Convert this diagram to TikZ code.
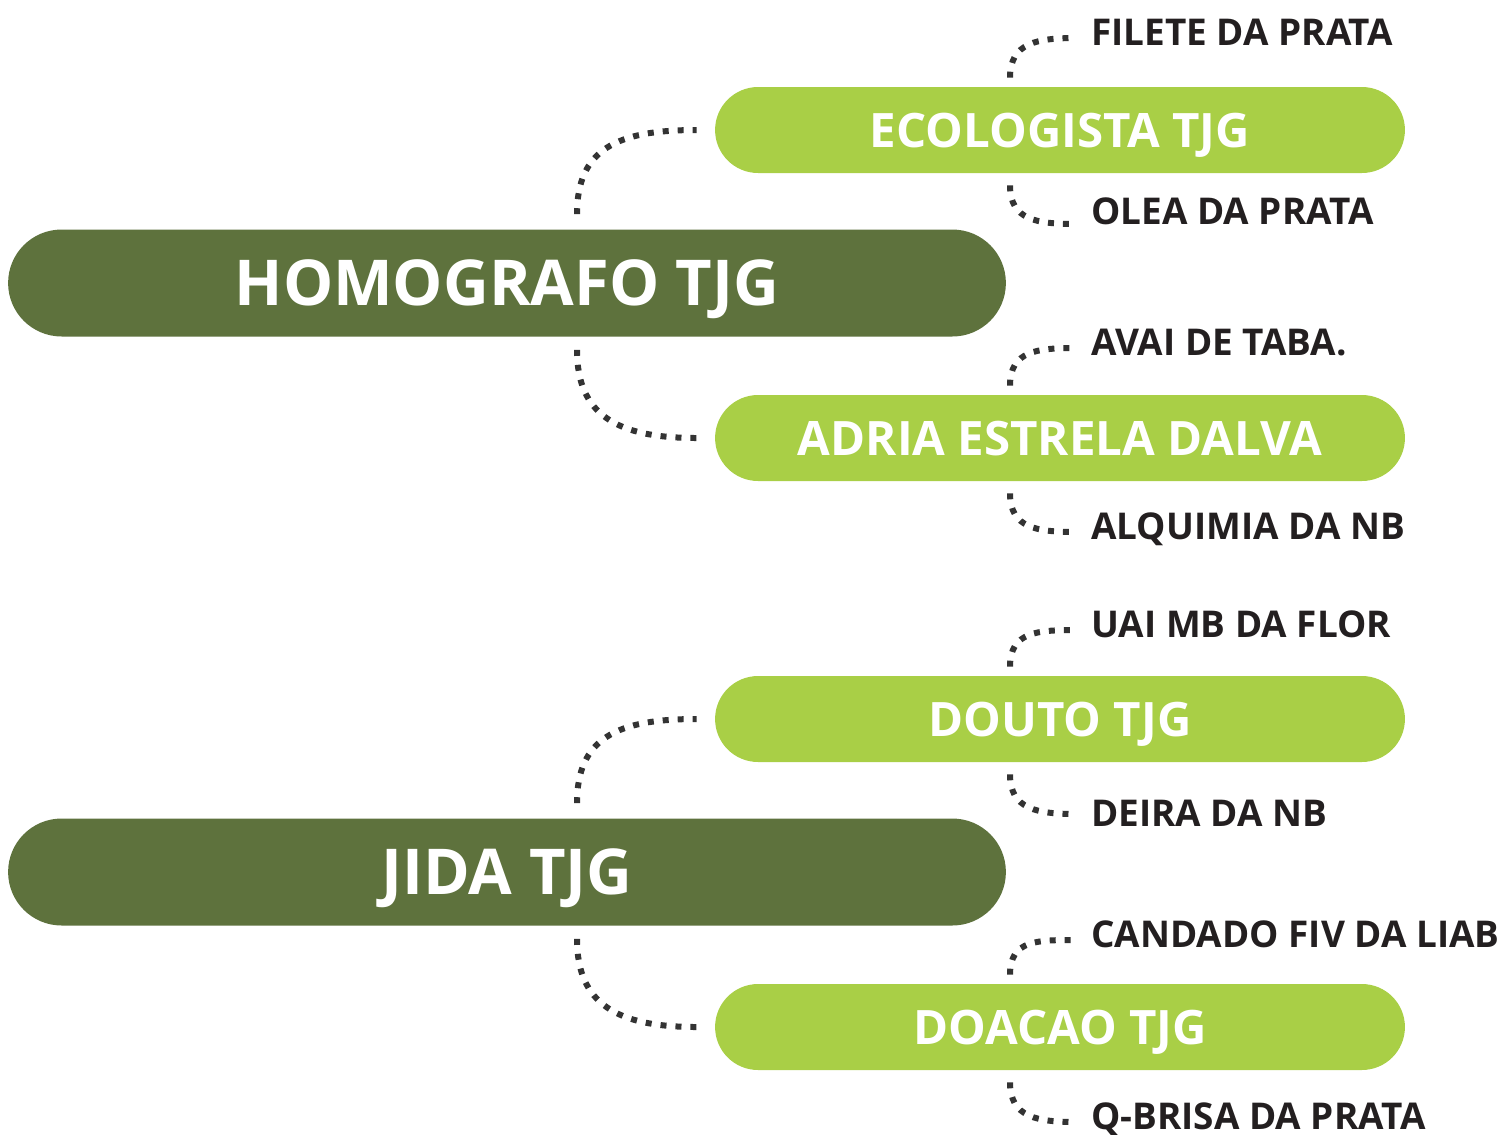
\documentclass[tikz,border=0pt]{standalone}
\usepackage{fontspec}
\setmainfont{Open Sans}
\usetikzlibrary{
  calc,        % offsets from anchors
  shapes.misc  % pill shaped boxes
}

\definecolor{darkleaf}{HTML}{5E723D}
\definecolor{lightleaf}{HTML}{A9CF46}
\definecolor{dotgray}{HTML}{333333}
\definecolor{inkblack}{HTML}{231F20}

\tikzset{
  mainbox/.style={rounded rectangle, fill=darkleaf, text=white,
    minimum width=19.96cm, minimum height=2.14cm, inner sep=0pt,
    text height=0.88cm, text depth=0pt,
    font=\fontsize{36}{40}\selectfont\bfseries},
  subbox/.style={rounded rectangle, fill=lightleaf, text=white,
    minimum width=13.8cm, minimum height=1.72cm, inner sep=0pt,
    text height=0.69cm, text depth=0pt,
    font=\fontsize{27}{32}\selectfont\bfseries},
  leaf/.style={anchor=west, inner sep=0pt, text=inkblack,
    text height=0.5cm, text depth=0pt,
    font=\fontsize{21}{24}\selectfont\bfseries},
  link/.style={draw=dotgray, line width=0.12cm, dash pattern=on 0.12cm off 0.18cm}
}

\begin{document}
\begin{tikzpicture}[x=0.02cm, y=-0.02cm]
        \useasboundingbox (0,0) rectangle (1502,1134);

        % Main boxes
        \node[mainbox] (homografo) at (507,283) {HOMOGRAFO TJG};
        \node[mainbox] (jida) at (507,872) {JIDA TJG};

        % Second level boxes
        \node[subbox] (ecologista) at (1060,130) {ECOLOGISTA TJG};
        \node[subbox] (adria) at (1060,438) {ADRIA ESTRELA DALVA};
        \node[subbox] (douto) at (1060,719) {DOUTO TJG};
        \node[subbox] (doacao) at (1060,1027) {DOACAO TJG};

        % Leaves
        \node[leaf] (filete) at (1091,33) {FILETE DA PRATA};
        \node[leaf] (olea) at (1091,212) {OLEA DA PRATA};
        \node[leaf] (avai) at (1091,343) {AVAI DE TABA.};
        \node[leaf] (alquimia) at (1091,527) {ALQUIMIA DA NB};
        \node[leaf] (uai) at (1091,625) {UAI MB DA FLOR};
        \node[leaf] (deira) at (1091,814) {DEIRA DA NB};
        \node[leaf] (candado) at (1091,935) {CANDADO FIV DA LIAB};
        \node[leaf] (qbrisa) at (1091,1117) {Q-BRISA DA PRATA};

        % Main box to second level
        \draw[link] ($(homografo.north)+(70,-15)$) .. controls +(0,-65) and +(-80,0) .. ($(ecologista.west)+(-18,0)$);
        \draw[link] ($(homografo.south)+(70,13)$) .. controls +(0,65) and +(-80,0) .. ($(adria.west)+(-18,0)$);
        \draw[link] ($(jida.north)+(70,-15)$) .. controls +(0,-65) and +(-80,0) .. ($(douto.west)+(-18,0)$);
        \draw[link] ($(jida.south)+(70,13)$) .. controls +(0,65) and +(-80,0) .. ($(doacao.west)+(-18,0)$);

        % Second level to leaves
        \draw[link] ($(ecologista.north)+(-50,-9)$) .. controls +(0,-35) and +(-40,0) .. ($(filete.west)+(-14,5)$);
        \draw[link] ($(ecologista.south)+(-50,12)$) .. controls +(0,35) and +(-40,0) .. ($(olea.west)+(-14,12)$);
        \draw[link] ($(adria.north)+(-50,-9)$) .. controls +(0,-35) and +(-40,0) .. ($(avai.west)+(-14,5)$);
        \draw[link] ($(adria.south)+(-50,12)$) .. controls +(0,35) and +(-40,0) .. ($(alquimia.west)+(-14,5)$);
        \draw[link] ($(douto.north)+(-50,-9)$) .. controls +(0,-35) and +(-40,0) .. ($(uai.west)+(-14,5)$);
        \draw[link] ($(douto.south)+(-50,12)$) .. controls +(0,35) and +(-40,0) .. ($(deira.west)+(-14,0)$);
        \draw[link] ($(doacao.north)+(-50,-9)$) .. controls +(0,-35) and +(-40,0) .. ($(candado.west)+(-14,5)$);
        \draw[link] ($(doacao.south)+(-50,12)$) .. controls +(0,35) and +(-40,0) .. ($(qbrisa.west)+(-14,5)$);
\end{tikzpicture}
\end{document}
